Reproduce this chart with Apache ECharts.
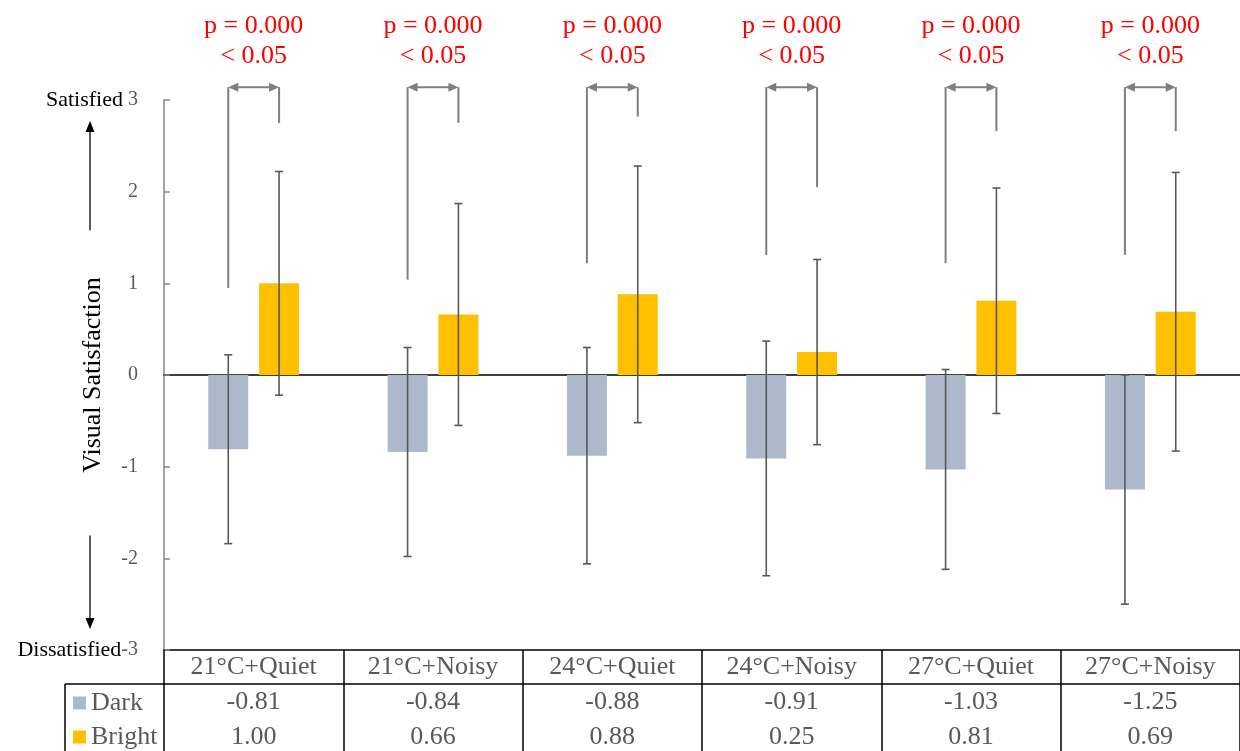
<!DOCTYPE html>
<html>
<head>
<meta charset="utf-8">
<script src="https://cdn.jsdelivr.net/npm/echarts@6/dist/echarts.min.js"></script>
<style>
html,body{margin:0;padding:0;background:#fff;}
#chart{width:1240px;height:751px;}
</style>
</head>
<body>
<div id="chart"></div>
<script>
const categories = ['21°C+Quiet', '21°C+Noisy', '24°C+Quiet', '24°C+Noisy', '27°C+Quiet', '27°C+Noisy'];
const seriesNames = ['Dark', 'Bright'];
const darkMeans = [-0.81, -0.84, -0.88, -0.91, -1.03, -1.25];
const brightMeans = [1.00, 0.66, 0.88, 0.25, 0.81, 0.69];
const darkSD = [1.03, 1.14, 1.18, 1.28, 1.09, 1.25];
const brightSD = [1.22, 1.21, 1.40, 1.01, 1.23, 1.52];
const bracketLeftEnd = [0.95, 1.04, 1.22, 1.31, 1.22, 1.31];
const bracketRightEnd = [2.75, 2.75, 2.82, 2.05, 2.66, 2.66];
const bracketTop = [3.14, 3.14, 3.14, 3.14, 3.14, 3.14];
const pTexts = ['p = 0.000', 'p = 0.000', 'p = 0.000', 'p = 0.000', 'p = 0.000', 'p = 0.000'];
const sigTexts = ['< 0.05', '< 0.05', '< 0.05', '< 0.05', '< 0.05', '< 0.05'];
const yTicks = {min: -3, max: 3, interval: 1};
const yEndLabels = {top: 'Satisfied', bottom: 'Dissatisfied'};
const yAxisName = 'Visual Satisfaction';
const arrowUp = [1.58, 2.77];
const arrowDown = [-1.75, -2.77];

const FONT = 'Liberation Serif';
const DARK_COLOR = '#ADB9CA';
const BRIGHT_COLOR = '#FFC000';
const OFFSET_FRAC = 0.1417;

const chart = echarts.init(document.getElementById('chart'), null, {renderer: 'canvas'});

function errorRender(sign) {
  return function (params, api) {
    const i = api.value(0), m = api.value(1), sd = api.value(2);
    const band = api.size([1, 0])[0];
    const x = api.coord([i, m])[0] + sign * OFFSET_FRAC * band;
    const yt = api.coord([i, m + sd])[1];
    const yb = api.coord([i, m - sd])[1];
    const st = {stroke: '#595959', lineWidth: 1.6};
    return {type: 'group', children: [
      {type: 'line', shape: {x1: x, y1: yt, x2: x, y2: yb}, style: st},
      {type: 'line', shape: {x1: x - 4, y1: yt, x2: x + 4, y2: yt}, style: st},
      {type: 'line', shape: {x1: x - 4, y1: yb, x2: x + 4, y2: yb}, style: st}
    ]};
  };
}

function bracketRender(params, api) {
  const i = api.value(0);
  const band = api.size([1, 0])[0];
  const cx = api.coord([i, 0])[0];
  const xl = cx - OFFSET_FRAC * band, xr = cx + OFFSET_FRAC * band;
  const yl = api.coord([i, api.value(1)])[1];
  const yr = api.coord([i, api.value(2)])[1];
  const yt = api.coord([i, api.value(3)])[1];
  const st = {stroke: '#7F7F7F', lineWidth: 2};
  const fillSt = {fill: '#7F7F7F'};
  const idx = params.dataIndex;
  return {type: 'group', children: [
    {type: 'line', shape: {x1: xl, y1: yl, x2: xl, y2: yt}, style: st},
    {type: 'line', shape: {x1: xr, y1: yr, x2: xr, y2: yt}, style: st},
    {type: 'line', shape: {x1: xl + 4, y1: yt, x2: xr - 4, y2: yt}, style: st},
    {type: 'polygon', shape: {points: [[xl, yt], [xl + 10, yt - 4.5], [xl + 10, yt + 4.5]]}, style: fillSt},
    {type: 'polygon', shape: {points: [[xr, yt], [xr - 10, yt - 4.5], [xr - 10, yt + 4.5]]}, style: fillSt},
    {type: 'text', style: {text: pTexts[idx], x: (xl + xr) / 2, y: yt - 61, align: 'center', verticalAlign: 'middle', fill: '#FF0000', fontSize: 26, fontFamily: FONT}},
    {type: 'text', style: {text: sigTexts[idx], x: (xl + xr) / 2, y: yt - 31, align: 'center', verticalAlign: 'middle', fill: '#FF0000', fontSize: 26, fontFamily: FONT}}
  ]};
}

const tableLabel = (margin) => ({show: true, interval: 0, color: '#595959', fontSize: 26, fontFamily: FONT, margin: margin});

const option = {
  animation: false,
  backgroundColor: '#ffffff',
  grid: {left: 164, right: 0, top: 100, bottom: 101, containLabel: false, outerBoundsMode: 'none'},
  legend: {
    data: seriesNames,
    orient: 'vertical',
    left: 73, top: 690,
    padding: 0,
    itemWidth: 13, itemHeight: 13, itemGap: 8,
    icon: 'rect',
    selectedMode: false,
    textStyle: {color: '#595959', fontSize: 26, fontFamily: FONT}
  },
  xAxis: [
    {type: 'category', data: categories, position: 'bottom',
      axisLine: {show: true, onZero: true, lineStyle: {color: '#000', width: 1.6}},
      axisTick: {show: false}, axisLabel: {show: false}, splitLine: {show: false}},
    {type: 'category', data: categories, position: 'bottom', offset: 0,
      axisLine: {show: true, onZero: false, lineStyle: {color: '#000', width: 1.5}},
      axisTick: {show: true, interval: 0, length: 101, lineStyle: {color: '#000', width: 1.5}},
      axisLabel: tableLabel(4), splitLine: {show: false}},
    {type: 'category', data: darkMeans.map(v => v.toFixed(2)), position: 'bottom', offset: 34,
      axisLine: {show: true, onZero: false, lineStyle: {color: '#000', width: 1.5}},
      axisTick: {show: false}, axisLabel: tableLabel(5), splitLine: {show: false}},
    {type: 'category', data: brightMeans.map(v => v.toFixed(2)), position: 'bottom', offset: 68,
      axisLine: {show: false, onZero: false},
      axisTick: {show: false}, axisLabel: tableLabel(6), splitLine: {show: false}}
  ],
  yAxis: {
    type: 'value', min: yTicks.min, max: yTicks.max, interval: yTicks.interval,
    name: yAxisName, nameLocation: 'middle', nameGap: 58, nameRotate: 90, nameMoveOverlap: false,
    nameTextStyle: {color: '#000', fontSize: 26, fontFamily: FONT},
    axisLine: {show: true, lineStyle: {color: '#868686', width: 1.5}},
    axisTick: {show: true, inside: true, length: 6, lineStyle: {color: '#868686', width: 1.5}},
    splitLine: {show: false},
    axisLabel: {
      margin: 26, color: '#595959', fontSize: 20, fontFamily: FONT,
      formatter: function (v) {
        if (v === yTicks.max) return '{s|' + yEndLabels.top + '} {n|' + v + '}';
        if (v === yTicks.min) return '{s|' + yEndLabels.bottom + '}{n|' + v + '}';
        return '{n|' + v + '}';
      },
      rich: {
        s: {color: '#000', fontSize: 22, fontFamily: FONT},
        n: {color: '#595959', fontSize: 20, fontFamily: FONT}
      }
    }
  },
  series: [
    {name: seriesNames[0], type: 'bar', xAxisIndex: 0, data: darkMeans, barWidth: 40, barGap: '27%',
      itemStyle: {color: DARK_COLOR}, z: 2},
    {name: seriesNames[1], type: 'bar', xAxisIndex: 0, data: brightMeans, barWidth: 40, barGap: '27%',
      itemStyle: {color: BRIGHT_COLOR}, z: 2},
    {type: 'custom', xAxisIndex: 0, clip: false, z: 5, silent: true,
      encode: {x: 0, y: [1, 2]},
      data: darkMeans.map((m, i) => [i, m, darkSD[i]]), renderItem: errorRender(-1)},
    {type: 'custom', xAxisIndex: 0, clip: false, z: 5, silent: true,
      encode: {x: 0, y: [1, 2]},
      data: brightMeans.map((m, i) => [i, m, brightSD[i]]), renderItem: errorRender(1)},
    {type: 'custom', xAxisIndex: 0, clip: false, z: 6, silent: true,
      encode: {x: 0, y: [1, 2, 3]},
      data: categories.map((c, i) => [i, bracketLeftEnd[i], bracketRightEnd[i], bracketTop[i]]),
      renderItem: bracketRender}
  ]
};

chart.setOption(option);

// decorative arrows and table frame
const yp = v => chart.convertToPixel({yAxisIndex: 0}, v);
const gridLeft = 164;
const tableTop = chart.getHeight() - 101;
const rowTop = tableTop + 34;
const arrowX = 90;
chart.setOption({
  graphic: [
    {type: 'line', shape: {x1: arrowX, y1: yp(arrowUp[0]), x2: arrowX, y2: yp(arrowUp[1]) + 10}, style: {stroke: '#000', lineWidth: 1.3}},
    {type: 'polygon', shape: {points: [[arrowX, yp(arrowUp[1])], [arrowX - 4.5, yp(arrowUp[1]) + 11], [arrowX + 4.5, yp(arrowUp[1]) + 11]]}, style: {fill: '#000'}},
    {type: 'line', shape: {x1: arrowX, y1: yp(arrowDown[0]), x2: arrowX, y2: yp(arrowDown[1]) - 10}, style: {stroke: '#000', lineWidth: 1.3}},
    {type: 'polygon', shape: {points: [[arrowX, yp(arrowDown[1])], [arrowX - 4.5, yp(arrowDown[1]) - 11], [arrowX + 4.5, yp(arrowDown[1]) - 11]]}, style: {fill: '#000'}},
    {type: 'line', shape: {x1: 65, y1: rowTop, x2: gridLeft, y2: rowTop}, style: {stroke: '#000', lineWidth: 1.5}},
    {type: 'line', shape: {x1: 65, y1: rowTop, x2: 65, y2: chart.getHeight()}, style: {stroke: '#000', lineWidth: 1.5}}
  ]
});
</script>
</body>
</html>
